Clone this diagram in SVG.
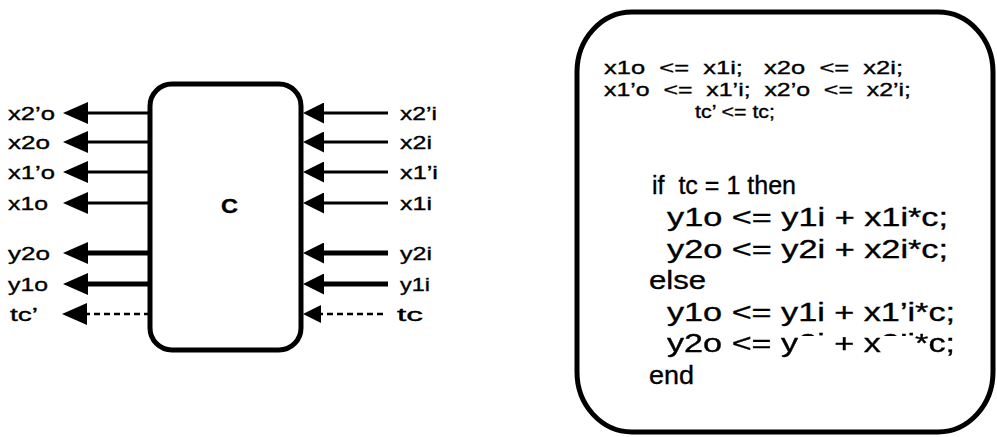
<svg xmlns="http://www.w3.org/2000/svg" width="997" height="437" viewBox="0 0 997 437">
<style>
text{font-family:"Liberation Sans",Arial,sans-serif;fill:#000;stroke:#000;stroke-width:0.35;white-space:pre}
.lbl{font-size:19px}
.code1{font-size:19px}
.code2{font-size:26px}
.box{fill:#fff;stroke:#000;stroke-width:5}
.thin{stroke:#000;stroke-width:3;fill:none}
.thick{stroke:#000;stroke-width:5;fill:none}
.dash{stroke:#000;stroke-width:2.5;fill:none;stroke-dasharray:6 4}
</style>
<defs>
<marker id="hl" viewBox="0 0 25 22" refX="1" refY="11" markerWidth="25" markerHeight="22" markerUnits="userSpaceOnUse" orient="auto"><path d="M0,0 L25,11 L0,22 z" fill="#000"/></marker>
<marker id="hr" viewBox="0 0 21 21" refX="1" refY="10.5" markerWidth="21" markerHeight="21" markerUnits="userSpaceOnUse" orient="auto"><path d="M0,0 L21,10.5 L0,21 z" fill="#000"/></marker>
<marker id="hs" viewBox="0 0 18 18" refX="1" refY="9" markerWidth="18" markerHeight="18" markerUnits="userSpaceOnUse" orient="auto"><path d="M0,0 L18,9 L0,18 z" fill="#000"/></marker>
<mask id="m9" maskUnits="userSpaceOnUse" x="0" y="0" width="997" height="437">
<rect x="0" y="0" width="997" height="437" fill="#fff"/>
<rect x="798" y="336" width="28" height="26" fill="#000"/>
<rect x="881" y="336" width="34" height="26" fill="#000"/>
</mask>
</defs>

<g id="connectors">
<line class="thin" x1="150" y1="113" x2="87" y2="113" marker-end="url(#hl)"/>
<line class="thin" x1="150" y1="142" x2="87" y2="142" marker-end="url(#hl)"/>
<line class="thin" x1="150" y1="172" x2="87" y2="172" marker-end="url(#hl)"/>
<line class="thin" x1="150" y1="203" x2="87" y2="203" marker-end="url(#hl)"/>
<line class="thick" x1="150" y1="253" x2="87" y2="253" marker-end="url(#hl)"/>
<line class="thick" x1="150" y1="284" x2="87" y2="284" marker-end="url(#hl)"/>
<line class="dash" x1="150" y1="314" x2="86" y2="314" marker-end="url(#hl)"/>
<line class="thin" x1="388" y1="113" x2="323" y2="113" marker-end="url(#hr)"/>
<line class="thin" x1="388" y1="142" x2="323" y2="142" marker-end="url(#hr)"/>
<line class="thin" x1="388" y1="172" x2="323" y2="172" marker-end="url(#hr)"/>
<line class="thin" x1="388" y1="203" x2="323" y2="203" marker-end="url(#hr)"/>
<line class="thick" x1="388" y1="253" x2="323" y2="253" marker-end="url(#hr)"/>
<line class="thick" x1="388" y1="284" x2="323" y2="284" marker-end="url(#hr)"/>
<line class="dash" x1="383" y1="314" x2="320" y2="314" marker-end="url(#hs)"/>
</g>

<g id="node-c">
<rect class="box" x="150" y="84" width="151" height="266" rx="22" ry="22"/>
<text x="221" y="213" style="font-size:21px;font-weight:bold" textLength="17" lengthAdjust="spacingAndGlyphs">C</text>
</g>

<g id="labels-out">
<text class="lbl" x="8" y="120" textLength="47" lengthAdjust="spacingAndGlyphs">x2’o</text>
<text class="lbl" x="8" y="149" textLength="42" lengthAdjust="spacingAndGlyphs">x2o</text>
<text class="lbl" x="8" y="179" textLength="47" lengthAdjust="spacingAndGlyphs">x1’o</text>
<text class="lbl" x="8" y="210" textLength="40" lengthAdjust="spacingAndGlyphs">x1o</text>
<text class="lbl" x="8" y="260" textLength="42" lengthAdjust="spacingAndGlyphs">y2o</text>
<text class="lbl" x="8" y="291" textLength="40" lengthAdjust="spacingAndGlyphs">y1o</text>
<text class="lbl" x="10" y="321" textLength="28" lengthAdjust="spacingAndGlyphs">tc’</text>
</g>

<g id="labels-in">
<text class="lbl" x="400" y="120" textLength="37" lengthAdjust="spacingAndGlyphs">x2’i</text>
<text class="lbl" x="400" y="149" textLength="32" lengthAdjust="spacingAndGlyphs">x2i</text>
<text class="lbl" x="400" y="179" textLength="38" lengthAdjust="spacingAndGlyphs">x1’i</text>
<text class="lbl" x="400" y="210" textLength="32" lengthAdjust="spacingAndGlyphs">x1i</text>
<text class="lbl" x="400" y="260" textLength="32" lengthAdjust="spacingAndGlyphs">y2i</text>
<text class="lbl" x="400" y="291" textLength="30" lengthAdjust="spacingAndGlyphs">y1i</text>
<text class="lbl" x="397" y="321" textLength="26" lengthAdjust="spacingAndGlyphs">tc</text>
</g>

<g id="node-code">
<rect class="box" x="577" y="12" width="416" height="420" rx="55" ry="60"/>
<text class="code1" x="604" y="74" textLength="299" lengthAdjust="spacingAndGlyphs">x1o  &lt;=  x1i;   x2o  &lt;=  x2i;</text>
<text class="code1" x="604" y="96" textLength="307" lengthAdjust="spacingAndGlyphs">x1’o  &lt;=  x1’i;  x2’o  &lt;=  x2’i;</text>
<text class="code1" x="695" y="118" textLength="80" lengthAdjust="spacingAndGlyphs">tc’ &lt;= tc;</text>
<text class="code2" x="652" y="194" textLength="144" lengthAdjust="spacingAndGlyphs">if  tc = 1 then</text>
<text class="code2" x="667" y="226" textLength="281" lengthAdjust="spacingAndGlyphs">y1o &lt;= y1i + x1i*c;</text>
<text class="code2" x="667" y="258" textLength="281" lengthAdjust="spacingAndGlyphs">y2o &lt;= y2i + x2i*c;</text>
<text class="code2" x="649" y="289" textLength="57" lengthAdjust="spacingAndGlyphs">else</text>
<text class="code2" x="667" y="321" textLength="288" lengthAdjust="spacingAndGlyphs">y1o &lt;= y1i + x1’i*c;</text>
<text class="code2" x="667" y="352" textLength="288" lengthAdjust="spacingAndGlyphs" mask="url(#m9)">y2o &lt;= y2i + x2’i*c;</text>
<text class="code2" x="649" y="384" textLength="45" lengthAdjust="spacingAndGlyphs">end</text>
</g>
</svg>
